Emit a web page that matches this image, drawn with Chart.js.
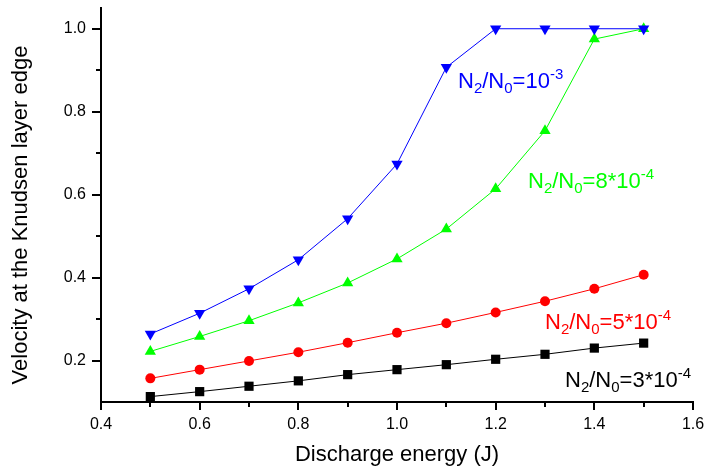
<!DOCTYPE html>
<html>
<head>
<meta charset="utf-8">
<script src="https://cdn.jsdelivr.net/npm/chart.js@4.4.1/dist/chart.umd.min.js"></script>
<style>
  html, body { margin: 0; padding: 0; background: #fff; }
  #wrap { width: 705px; height: 467px; }
</style>
</head>
<body>
<div id="wrap"><canvas id="velocityChart"></canvas></div>
<script>
// discharge energy (J)
const energy = [0.5, 0.6, 0.7, 0.8, 0.9, 1.0, 1.1, 1.2, 1.3, 1.4, 1.5];

// velocity at the Knudsen layer edge, one array per N2/N0 ratio
const ratio1e3 = [0.264, 0.314, 0.373, 0.443, 0.542, 0.674, 0.907, 1.0, 1.0, 1.0, 1.0];
const ratio8e4 = [0.222, 0.258, 0.296, 0.339, 0.387, 0.445, 0.517, 0.614, 0.754, 0.975, 1.0];
const ratio5e4 = [0.157, 0.178, 0.199, 0.220, 0.243, 0.267, 0.290, 0.316, 0.343, 0.373, 0.407];
const ratio3e4 = [0.113, 0.125, 0.138, 0.151, 0.166, 0.178, 0.190, 0.203, 0.215, 0.230, 0.242];

// tick values (every other one gets a label)
const xTicks = [0.4, 0.5, 0.6, 0.7, 0.8, 0.9, 1.0, 1.1, 1.2, 1.3, 1.4, 1.5, 1.6];
const yTicks = [0.2, 0.3, 0.4, 0.5, 0.6, 0.7, 0.8, 0.9, 1.0];

// curve labels: N2/N0 = <mantissa> 10^<exp>
const labelMantissa = ['10', '8*10', '5*10', '3*10'];
const labelExp = ['-3', '-4', '-4', '-4'];

const FONT = "'Liberation Sans', Arial, sans-serif";

function toPoints(ys) {
    return energy.map((x, i) => ({ x: x, y: ys[i] }));
}

function makeSet(ys, color, style, radius, rotation) {
    return {
        data: toPoints(ys),
        borderColor: color,
        backgroundColor: color,
        borderWidth: 1,
        pointStyle: style,
        pointRadius: radius,
        pointRotation: rotation || 0,
        pointBorderWidth: 0,
        pointBackgroundColor: color,
        tension: 0,
        clip: false
    };
}

// draws "N2/N0=..." with sub- and superscripts
function drawRatio(ctx, x, y, color, mantissa, exp) {
    const big = '22px ' + FONT, small = '15px ' + FONT;
    const parts = [
        [big, 'N', 0], [small, '2', 5], [big, '/N', 0], [small, '0', 5],
        [big, '=' + mantissa, 0], [small, exp, -9]
    ];
    ctx.fillStyle = color;
    ctx.textAlign = 'left';
    ctx.textBaseline = 'alphabetic';
    parts.forEach(p => {
        ctx.font = p[0];
        ctx.fillText(p[1], x, y + p[2]);
        x += ctx.measureText(p[1]).width;
    });
}

const decorPlugin = {
    id: 'decor',
    afterDraw(chart) {
        const ctx = chart.ctx;
        const xs = chart.scales.x, ys = chart.scales.y;
        const area = chart.chartArea;
        ctx.save();
        ctx.strokeStyle = '#000';
        ctx.lineWidth = 2;
        // outward ticks, major ones longer
        xTicks.forEach((v, i) => {
            const px = Math.round(xs.getPixelForValue(v));
            const len = i % 2 === 0 ? 8 : 5;
            ctx.beginPath();
            ctx.moveTo(px, area.bottom);
            ctx.lineTo(px, area.bottom + len);
            ctx.stroke();
        });
        yTicks.forEach((v, i) => {
            const py = Math.round(ys.getPixelForValue(v));
            const len = i % 2 === 0 ? 9 : 5;
            ctx.beginPath();
            ctx.moveTo(area.left, py);
            ctx.lineTo(area.left - len, py);
            ctx.stroke();
        });

        // axis titles
        ctx.fillStyle = '#000';
        ctx.font = '22px ' + FONT;
        ctx.textAlign = 'center';
        ctx.textBaseline = 'alphabetic';
        ctx.fillText('Discharge energy (J)', (area.left + area.right) / 2, 461);
        ctx.save();
        ctx.translate(27, 215);
        ctx.rotate(-Math.PI / 2);
        ctx.fillText('Velocity at the Knudsen layer edge', 0, 0);
        ctx.restore();

        // curve labels
        const pos = [[458, 88, '#0000ff'], [528, 188, '#00ff00'], [545, 329, '#ff0000'], [565, 387, '#000000']];
        pos.forEach((p, i) => drawRatio(ctx, p[0], p[1], p[2], labelMantissa[i], labelExp[i]));
        ctx.restore();
    }
};

const tickFont = { family: FONT, size: 16 };

const config = {
    type: 'line',
    data: {
        datasets: [
            makeSet(ratio1e3, '#0000ff', 'triangle', 6.5, 180),
            makeSet(ratio8e4, '#00ff00', 'triangle', 6.5),
            makeSet(ratio5e4, '#ff0000', 'circle', 5),
            makeSet(ratio3e4, '#000000', 'rect', 6.5)
        ]
    },
    options: {
        responsive: true,
        maintainAspectRatio: false,
        animation: false,
        devicePixelRatio: 1,
        layout: { padding: { top: 8, right: 12, left: 0, bottom: 0 } },
        plugins: {
            legend: { display: false },
            tooltip: { enabled: false }
        },
        scales: {
            x: {
                type: 'linear',
                min: 0.4,
                max: 1.6,
                afterBuildTicks: (scale) => { scale.ticks = xTicks.map(v => ({ value: v })); },
                afterFit: (scale) => {
                    scale.height = 65;
                    scale.paddingLeft = 0;
                    scale.paddingRight = 0;
                },
                ticks: {
                    font: tickFont,
                    color: '#000',
                    padding: 13,
                    maxRotation: 0,
                    autoSkip: false,
                    callback: (v, i) => i % 2 === 0 ? v.toFixed(1) : ''
                },
                grid: { drawOnChartArea: false, drawTicks: false },
                border: { display: true, color: '#000', width: 2 }
            },
            y: {
                type: 'linear',
                min: 0.1,
                max: 1.05,
                afterBuildTicks: (scale) => { scale.ticks = yTicks.map(v => ({ value: v })); },
                afterFit: (scale) => {
                    scale.width = 101;
                    scale.paddingTop = 0;
                    scale.paddingBottom = 0;
                },
                ticks: {
                    font: tickFont,
                    color: '#000',
                    padding: 15,
                    autoSkip: false,
                    callback: (v, i) => i % 2 === 0 ? v.toFixed(1) : ''
                },
                grid: { drawOnChartArea: false, drawTicks: false },
                border: { display: true, color: '#000', width: 2 }
            }
        }
    },
    plugins: [decorPlugin]
};

const myChart = new Chart(document.getElementById('velocityChart'), config);
</script>
</body>
</html>
